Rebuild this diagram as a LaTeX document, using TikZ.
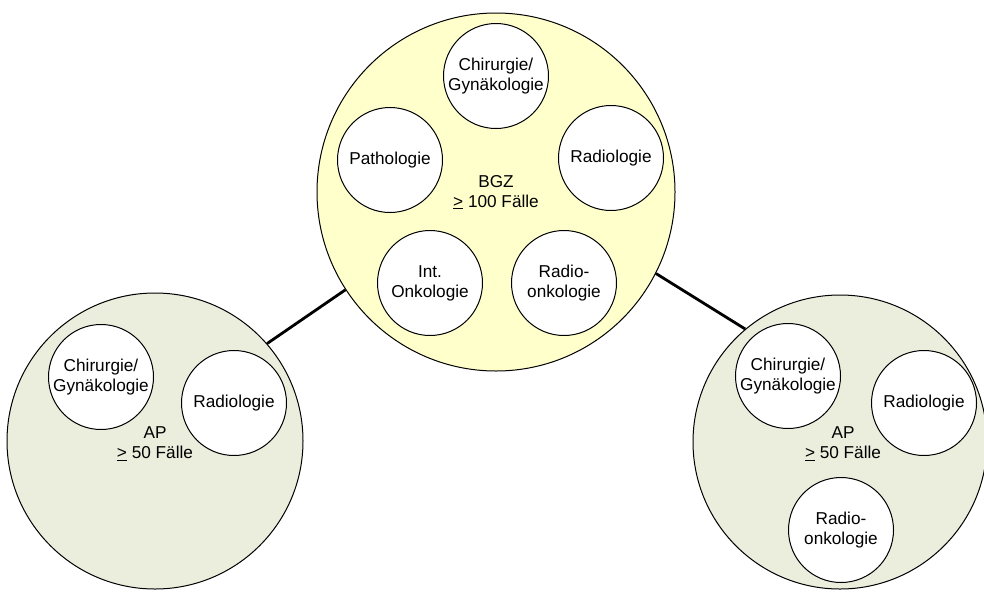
\documentclass[tikz,border=0pt]{standalone}
\usepackage{fontspec}
\setmainfont{Liberation Sans}
\definecolor{bgzfill}{HTML}{FFFFCC}
\definecolor{apfill}{HTML}{EBEEDC}
\begin{document}
\begin{tikzpicture}[x=1pt,y=-1pt,
  every node/.style={font=\fontsize{17.2}{20}\selectfont, align=center, inner sep=0pt},
  outer/.style={circle, draw=black, line width=1pt},
  bgz/.style={outer, fill=bgzfill, minimum size=358pt},
  ap/.style={outer, fill=apfill, minimum size=296pt},
  inner/.style={circle, draw=black, line width=1pt, fill=white, minimum size=105pt},
  link/.style={draw=black, line width=2.8pt}]
\useasboundingbox (0,0) rectangle (984,592);
% outer circles
\node[bgz] (B) at (496,192) {BGZ\\\underline{>} 100 Fälle};
\node[ap] (L) at (155,441) {};
\node[ap, minimum size=294pt] (R) at (840,442) {};
\node (Lt) at (155,444) {AP\\\underline{>} 50 Fälle};
\node (Rt) at (843,444) {AP\\\underline{>} 50 Fälle};
% connectors
\draw[link] (B.213.7) -- (L.41.2);
\draw[link] (B.-27.7) -- (R.130.5);
% BGZ inner
\node[inner] (B1) at (496,76) {Chirurgie/\\Gynäkologie};
\node[inner] (B2) at (390,160) {Pathologie};
\node[inner] (B3) at (611,158) {Radiologie};
\node[inner] (B4) at (430,283) {Int.\\Onkologie};
\node[inner] (B5) at (564,283) {Radio-\\onkologie};
% left AP inner
\node[inner] (L1) at (101,377) {Chirurgie/\\Gynäkologie};
\node[inner] (L2) at (234,403) {Radiologie};
% right AP inner
\node[inner] (R1) at (788,376) {Chirurgie/\\Gynäkologie};
\node[inner] (R2) at (924,403) {Radiologie};
\node[inner] (R3) at (841,530) {Radio-\\onkologie};
\end{tikzpicture}
\end{document}
